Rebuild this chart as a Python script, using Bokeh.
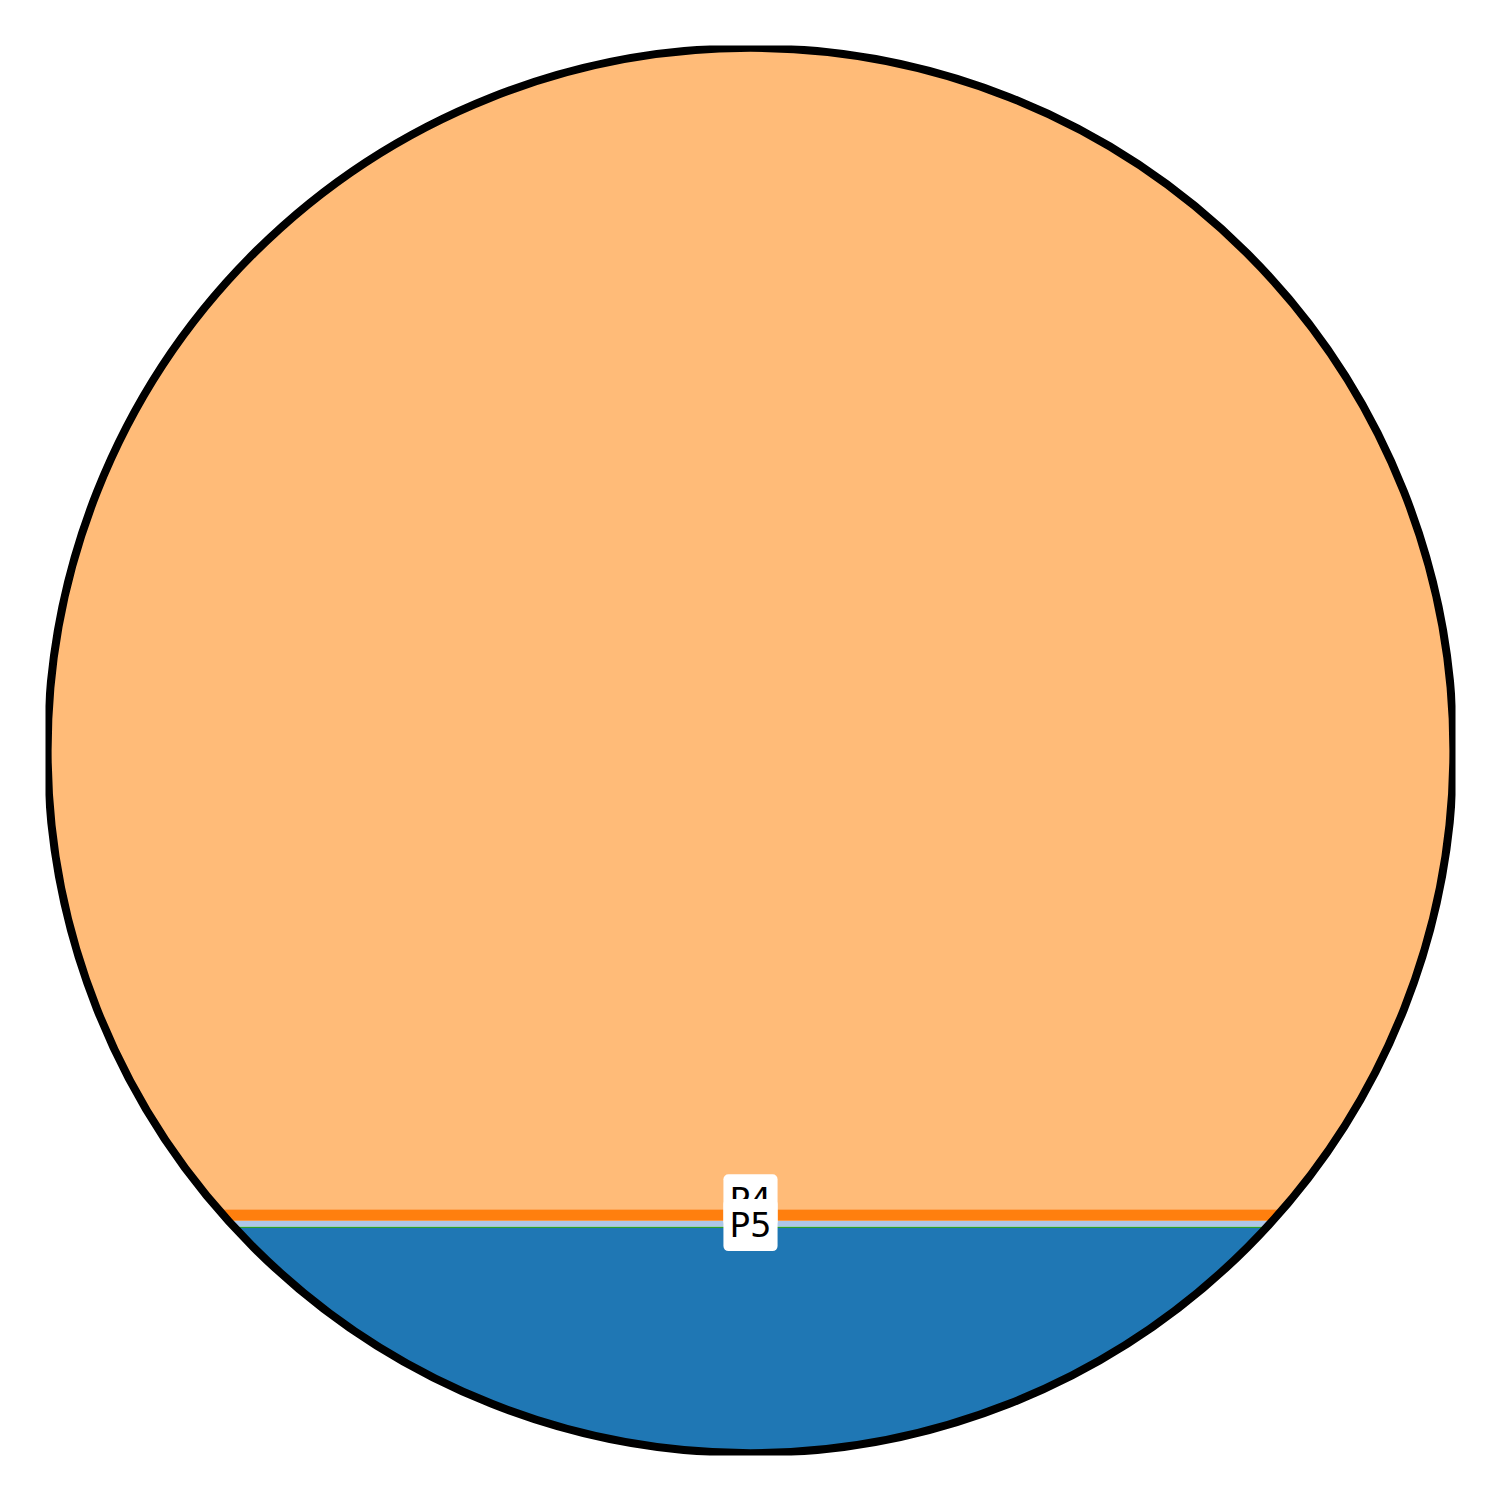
import numpy as np
from bokeh.plotting import figure
from bokeh.models import ColumnDataSource, Range1d
from bokeh.core.properties import value
from bokeh.embed import file_html
from bokeh.resources import INLINE

# ---- data (percent of the circle's area) ----
categories = ["P1", "P2", "P3", "P4", "P5"]
values = [10.35, 0.40, 0.78, 88.37, 0.10]
colors = ["#1f77b4", "#aec7e8", "#ff7f0e", "#ffbb78", "#2ca02c"]
stack_order = ["P1", "P5", "P2", "P3", "P4"]   # filled from the bottom up
labelled = ["P4", "P5"]

R = 0.997
ys_grid = np.linspace(-R, R, 40001)
area_grid = R**2 * (np.pi - np.arccos(ys_grid / R)) + ys_grid * np.sqrt(np.clip(R**2 - ys_grid**2, 0, None))
total_area = np.pi * R**2

def level(frac):
    return float(np.interp(frac * total_area, area_grid, ys_grid))

vals = dict(zip(categories, values))
cols = dict(zip(categories, colors))
tot = sum(values)

xs_list, ys_list, fill_list = [], [], []
bottoms = {}
cum = 0.0
for c in stack_order:
    y0 = level(cum / tot)
    cum += vals[c]
    y1 = level(min(cum / tot, 1.0))
    bottoms[c] = y0
    t = np.linspace(y0, y1, 300)
    xr = np.sqrt(np.clip(R**2 - t**2, 0, None))
    xs_list.append(np.concatenate([xr, -xr[::-1]]).tolist())
    ys_list.append(np.concatenate([t, t[::-1]]).tolist())
    fill_list.append(cols[c])

p = figure(width=1500, height=1500, output_backend="svg", toolbar_location=None,
           x_range=Range1d(-1, 1), y_range=Range1d(-1, 1), min_border=45)
p.axis.visible = False
p.grid.visible = False
p.outline_line_color = None
p.background_fill_color = "white"
p.border_fill_color = "white"

p.patches(xs=xs_list, ys=ys_list, fill_color=fill_list, line_color=None)
p.circle(x=0, y=0, radius=R, fill_color=None, line_color="black", line_width=8)

lab_src = ColumnDataSource(dict(x=[0.0 for _ in labelled],
                                y=[bottoms[c] for c in labelled],
                                text=labelled,
                                yoff=[-9, -3]))
p.text(x="x", y="y", text="text", source=lab_src,
       text_font=value("DejaVu Sans"), text_font_size="34px", text_color="black",
       text_align="center", text_baseline="middle", y_offset="yoff",
       background_fill_color="white", padding=6, border_radius=5,
       border_line_color=None)

open("out.html", "w").write(file_html(p, INLINE))
